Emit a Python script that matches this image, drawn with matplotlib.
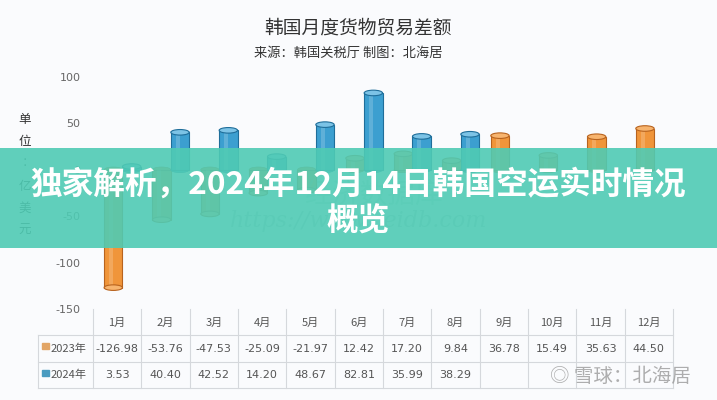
import matplotlib
matplotlib.use("Agg")
import matplotlib.pyplot as plt
from matplotlib.patches import Ellipse, Rectangle

plt.rcParams['font.family'] = ['Noto Sans CJK SC', 'DejaVu Sans']

months = ['1月', '2月', '3月', '4月', '5月', '6月', '7月', '8月', '9月', '10月', '11月', '12月']
v2023 = [-126.98, -53.76, -47.53, -25.09, -21.97, 12.42, 17.20, 9.84, 36.78, 15.49, 35.63, 44.50]
v2024 = [3.53, 40.40, 42.52, 14.20, 48.67, 82.81, 35.99, 38.29]
series_names = ['2023年', '2024年']
yticks = [100, 50, 0, -50, -100, -150]
title = '韩国月度货物贸易差额'
subtitle = '来源：韩国关税厅 制图：北海居'
banner = '独家解析，2024年12月14日韩国空运实时情况\n概览'

W, H = 717, 400
bg = '#FAFBFD'
fig = plt.figure(figsize=(W / 100, H / 100), dpi=100, facecolor=bg)

def fx(px):
    return px / W

def fy(py):
    return 1 - py / H

# main axes
ax = fig.add_axes([fx(93), fy(309), fx(673) - fx(93), fy(77) - fy(309)])
ax.set_facecolor(bg)
ax.set_xlim(0.5, 12.5)
ax.set_ylim(-150, 100)
for s in ax.spines.values():
    s.set_visible(False)
ax.set_xticks([])
ax.set_yticks(yticks)
ax.set_yticklabels([str(t) for t in yticks], color='#666666', fontsize=8, family='DejaVu Sans')
ax.tick_params(axis='y', length=0, pad=9)

orange = '#F0953A'
orange_dark = '#B8631E'
orange_top = '#F7B46E'
blue = '#3C9FD0'
blue_dark = '#1F6E9A'
blue_top = '#7CC3E6'
bw = 0.38
off_o, off_b = -0.08, 0.30
cap_h = 6.0

x23 = [i + 1 + off_o for i in range(len(v2023))]
x24 = [i + 1 + off_b for i in range(len(v2024))]

def draw_cyl(xs, vals, fc, ec, tc, z):
    ax.bar(xs, vals, width=bw, color=fc, edgecolor=ec, linewidth=0.8, zorder=z)
    ax.bar([x - bw * 0.12 for x in xs], vals, width=bw * 0.22, color='white', alpha=0.18,
           linewidth=0, zorder=z + 0.1)
    for x, v in zip(xs, vals):
        ax.add_patch(Ellipse((x, v), bw, cap_h, facecolor=tc, edgecolor=ec, linewidth=0.8, zorder=z + 0.2))
        ax.add_patch(Ellipse((x, 0), bw, cap_h, facecolor=fc, edgecolor=ec, linewidth=0.5, zorder=z - 0.1))

draw_cyl(x23, v2023, orange, orange_dark, orange_top, 2)
draw_cyl(x24, v2024, blue, blue_dark, blue_top, 3)

# watermark text in plot
ax.text(6.3, -28, '经济数据库', fontsize=20, color='#8FB8A8', alpha=0.35, ha='center', va='center', zorder=5)
ax.text(6.0, -55, 'https://www.ceidb.com', fontsize=16, color='#9AA8A8', alpha=0.5, ha='center',
        va='center', family='DejaVu Serif', style='italic', zorder=5)

# titles
fig.text(fx(358), fy(29), title, fontsize=13.5, color='#333333', ha='center', va='center')
fig.text(fx(348), fy(53), subtitle, fontsize=9.5, color='#333333', ha='center', va='center', style='italic')

# y-axis unit label
unit = '单位：亿美元'
for i, ch in enumerate(unit):
    fig.text(fx(25), fy(120 + i * 22), ch if ch != '：' else '︰', fontsize=9, color='#333333',
             ha='center', va='center')

# table
tax = fig.add_axes([fx(0), fy(400), 1, fy(300) - fy(400)])
tax.set_xlim(0, W)
tax.set_ylim(400, 300)
tax.axis('off')
grid = '#D5D8DC'
col_w = (673 - 93) / 12
col_edges = [93 + i * col_w for i in range(13)]
for xe in col_edges:
    tax.plot([xe, xe], [309, 388], color=grid, lw=0.8)
tax.plot([38, 38], [335, 388], color=grid, lw=0.8)
for ye in [335, 362, 388]:
    tax.plot([38, 673], [ye, ye], color=grid, lw=0.8)
tcol = '#555555'
for i, m in enumerate(months):
    tax.text(col_edges[i] + col_w / 2, 323, m, fontsize=8, color=tcol, ha='center', va='center')
for i, v in enumerate(v2023):
    tax.text(col_edges[i] + col_w / 2, 348.5, f'{v:.2f}', fontsize=8, color=tcol, ha='center', va='center',
             family='DejaVu Sans')
for i, v in enumerate(v2024):
    tax.text(col_edges[i] + col_w / 2, 375, f'{v:.2f}', fontsize=8, color=tcol, ha='center', va='center',
             family='DejaVu Sans')
tax.add_patch(Rectangle((42, 343), 7, 6, color='#E2A566'))
tax.add_patch(Rectangle((42, 370), 7, 6, color='#4A9BC0'))
tax.text(51, 348.5, series_names[0], fontsize=8, color=tcol, ha='left', va='center')
tax.text(51, 375, series_names[1], fontsize=8, color=tcol, ha='left', va='center')

# bottom-right watermark
fig.text(fx(620), fy(376), '◎ 雪球：北海居', fontsize=14, color='#9A9A9A', alpha=0.8, ha='center', va='center')

# banner overlay
fig.patches.append(Rectangle((0, fy(248)), 1, fy(148) - fy(248), transform=fig.transFigure,
                             facecolor='#4FCBB4', alpha=0.9, edgecolor='none', zorder=10))
fig.text(0.5, fy(203), banner, fontsize=22.8, fontweight='black', color='white', ha='center', va='center',
         linespacing=1.2, zorder=11)

fig.savefig('out.png', dpi=100, facecolor=bg)
